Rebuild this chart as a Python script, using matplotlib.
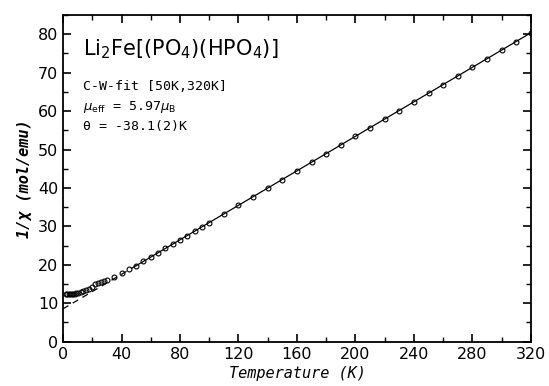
import matplotlib
matplotlib.use("Agg")
import matplotlib.pyplot as plt
import numpy as np
from matplotlib.ticker import MultipleLocator

T = [2, 3, 4, 5, 6, 7, 8, 9, 10, 12, 14, 16, 18, 20, 22, 24, 26, 28, 30, 35, 40, 45,
     50, 55, 60, 65, 70, 75, 80, 85, 90, 95, 100, 110, 120, 130, 140, 150, 160, 170,
     180, 190, 200, 210, 220, 230, 240, 250, 260, 270, 280, 290, 300, 310, 320]
inv_chi = [12.3, 12.3, 12.3, 12.3, 12.35, 12.4, 12.5, 12.6, 12.7, 12.9, 13.1, 13.4, 13.8, 14.3,
           15.0, 15.4, 15.6, 15.8, 16.0, 16.8, 17.9, 18.8,
           19.8, 20.9, 22.0, 23.2, 24.3, 25.4, 26.5, 27.6, 28.8, 29.9, 31.0, 33.2, 35.5,
           37.7, 40.0, 42.2, 44.5, 46.7, 48.9, 51.2, 53.4, 55.7, 57.9, 60.1, 62.4, 64.6,
           66.9, 69.1, 71.4, 73.6, 75.8, 78.1, 80.3]

# Curie-Weiss fit parameters
mu_eff = 5.97
theta = -38.1
C = mu_eff**2 / 8.0

fit_T_dash = [0, 50]
fit_T_solid = [50, 320]

fig = plt.figure(figsize=(5.49, 3.86), dpi=100)
ax = fig.add_axes([0.1148, 0.1148, 0.8522, 0.8462])

td = np.array(fit_T_dash, dtype=float)
ts = np.array(fit_T_solid, dtype=float)
ax.plot(td, (td - theta) / C, color='black', lw=0.9, ls=(0, (5, 4)))
ax.plot(ts, (ts - theta) / C, color='black', lw=0.9)
ax.plot(T, inv_chi, 'o', mfc='none', mec='black', ms=3.5, mew=0.8)

ax.set_xlim(0, 320)
ax.set_ylim(0, 85)
ax.xaxis.set_major_locator(MultipleLocator(40))
ax.xaxis.set_minor_locator(MultipleLocator(20))
ax.yaxis.set_major_locator(MultipleLocator(10))
ax.yaxis.set_minor_locator(MultipleLocator(5))
ax.tick_params(which='both', direction='in', top=True, right=True, labelsize=11.5)
ax.tick_params(which='major', length=6, width=1.2)
ax.tick_params(which='minor', length=3.5, width=1.0)
for s in ax.spines.values():
    s.set_linewidth(1.3)

ax.set_xlabel('Temperature (K)', fontsize=11, style='italic', family='DejaVu Sans Mono', labelpad=3)
ax.set_ylabel('1/χ (mol/emu)', fontsize=11, style='italic', family='DejaVu Sans Mono', fontweight='bold', labelpad=4)

ax.text(0.042, 0.895, r'Li$_2$Fe[(PO$_4$)(HPO$_4$)]', transform=ax.transAxes, fontsize=15,
        family='DejaVu Sans', va='center')
ax.text(0.042, 0.78, 'C-W-fit [50K,320K]', transform=ax.transAxes, fontsize=9.5,
        family='DejaVu Sans Mono', va='center')
ax.text(0.042, 0.72, r'$\mu_{\rm eff}$ = 5.97$\mu_{\rm B}$', transform=ax.transAxes, fontsize=9.5,
        family='DejaVu Sans Mono', va='center')
ax.text(0.042, 0.66, 'θ = -38.1(2)K', transform=ax.transAxes, fontsize=9.5,
        family='DejaVu Sans Mono', va='center')

fig.savefig('out.png', dpi=100)
